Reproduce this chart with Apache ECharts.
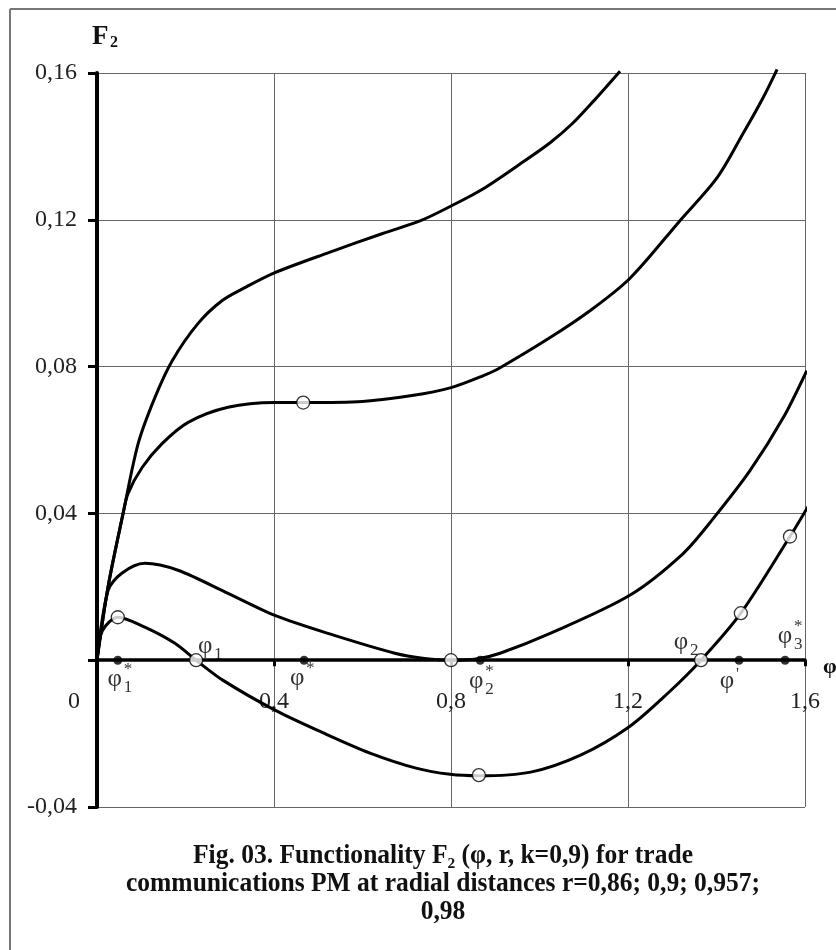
<!DOCTYPE html>
<html><head><meta charset="utf-8">
<script src="https://cdn.jsdelivr.net/npm/echarts@6/dist/echarts.min.js"></script>
<style>html,body{margin:0;padding:0;background:#fff}#c{width:836px;height:950px}</style>
</head><body><div id="c"></div>
<script>
// ---------- data ----------
const xMin = 0, xMax = 1.6, xStep = 0.4;
const yMin = -0.04, yMax = 0.16, yStep = 0.04;

const curveTop = [[0,0],[0.025,0.02],[0.059,0.040],[0.093,0.059],[0.131,0.0716],[0.17,0.0816],[0.228,0.0917],[0.283,0.098],[0.334,0.1015],[0.402,0.1056],[0.522,0.111],[0.644,0.1162],[0.734,0.1199],[0.809,0.1243],[0.872,0.1284],[0.956,0.1352],[1.024,0.141],[1.075,0.1463],[1.121,0.1522],[1.182,0.1605]];
const curveSecond = [[0,0],[0.025,0.02],[0.059,0.040],[0.07,0.0454],[0.102,0.0525],[0.147,0.059],[0.206,0.0648],[0.296,0.0689],[0.402,0.0702],[0.466,0.0702],[0.6,0.0705],[0.712,0.0721],[0.798,0.0742],[0.872,0.0775],[0.911,0.0797],[1.024,0.0879],[1.114,0.0952],[1.204,0.104],[1.317,0.1197],[1.401,0.1314],[1.46,0.1435],[1.505,0.1532],[1.537,0.161]];
const curveThird = [[0,0],[0.025,0.019],[0.056,0.0237],[0.108,0.0264],[0.183,0.0245],[0.296,0.0182],[0.402,0.0122],[0.522,0.0073],[0.673,0.0019],[0.74,0.0005],[0.8,0],[0.86,0.0004],[0.911,0.0019],[1.024,0.0073],[1.204,0.0177],[1.324,0.029],[1.392,0.0385],[1.476,0.0517],[1.551,0.0661],[1.604,0.0789]];
const curveBottom = [[0,0],[0.012,0.008],[0.047,0.0117],[0.108,0.009],[0.176,0.0046],[0.224,0],[0.285,-0.0055],[0.402,-0.0136],[0.513,-0.0199],[0.617,-0.0253],[0.721,-0.0294],[0.798,-0.0311],[0.863,-0.0315],[0.98,-0.0305],[1.094,-0.0258],[1.202,-0.0182],[1.29,-0.009],[1.365,0],[1.455,0.0128],[1.566,0.0337],[1.611,0.0427]];

const openPoints = [[0.047,0.0117],[0.224,0],[0.466,0.0702],[0.80,0],[0.863,-0.0313],[1.365,0],[1.455,0.0128],[1.566,0.0337]];
const axisPoints = [[0.047,0],[0.468,0],[0.866,0],[1.451,0],[1.555,0]];

const pointLabelMain = ['φ','φ','φ','φ','φ','φ','φ'];
const pointLabelSub  = ['1','1','','2','2','','3'];
const pointLabelSup  = ['*','','*','*','','\'','*'];
const pointLabelAt   = [0.047,0.224,0.468,0.866,1.365,1.451,1.555];

const yAxisTitle = 'F';
const yAxisTitleSub = '2';
const xAxisTitle = 'φ';
const originLabel = '0';
const captionLines = ['Fig. 03. Functionality F\u2082 (φ, r, k=0,9) for trade','communications PM at radial distances r=0,86; 0,9; 0,957;','0,98'];

// ---------- chart ----------
const FONT = '"Liberation Serif","Times New Roman",serif';
const chart = echarts.init(document.getElementById('c'), null, {renderer:'canvas'});
const fmt = v => Math.abs(v) < 1e-9 ? '' : String(Number(v.toFixed(2))).replace('.', ',');
const lineSeries = d => ({type:'line', data:d, smooth:0.3, symbol:'none', showSymbol:false, clip:false, silent:true, z:3,
  lineStyle:{color:'#000', width:3}});

chart.setOption({
  animation:false,
  backgroundColor:'#fff',
  grid:{left:97, right:31, top:73, bottom:143, containLabel:false, outerBoundsMode:'none'},
  xAxis:{type:'value', min:xMin, max:xMax, interval:xStep,
    axisLine:{show:true, onZero:true, lineStyle:{color:'#000', width:3.5}},
    axisTick:{show:true, length:6, lineStyle:{color:'#000', width:3}},
    axisLabel:{formatter:fmt, fontFamily:FONT, fontSize:24, color:'#222', margin:-117},
    splitLine:{show:true, lineStyle:{color:'#666', width:1}}},
  yAxis:{type:'value', min:yMin, max:yMax, interval:yStep,
    axisLine:{show:true, onZero:false, lineStyle:{color:'#000', width:4}},
    axisTick:{show:true, length:9, lineStyle:{color:'#000', width:3}},
    axisLabel:{formatter:fmt, fontFamily:FONT, fontSize:24, color:'#222', margin:20},
    splitLine:{show:true, lineStyle:{color:'#666', width:1}}},
  series:[
    lineSeries(curveTop), lineSeries(curveSecond), lineSeries(curveThird), lineSeries(curveBottom),
    {type:'scatter', data:axisPoints, symbol:'circle', symbolSize:9, z:4, silent:true, clip:false,
      itemStyle:{color:'#000'}},
    {type:'scatter', data:openPoints, symbol:'circle', symbolSize:13, z:5, silent:true, clip:false,
      itemStyle:{color:'#fff', borderColor:'#000', borderWidth:1.3}}
  ]
});

// text layout (offsets in px from each anchor)
const labelOffsets = [[-3,19],[9,-14],[-7,18],[-4,21],[-20,-18],[-12,21],[0,-24]];
const supDy = [-10, 0, -10, -10, 0, -7, -10];
const g = [];
g.push({type:'line', shape:{x1:10,y1:9,x2:836,y2:9}, style:{stroke:'#777', lineWidth:2}});
g.push({type:'line', shape:{x1:10,y1:9,x2:10,y2:950}, style:{stroke:'#777', lineWidth:2}});
g.push({type:'text', x:92, y:24, style:{text:yAxisTitle, font:'bold 27px '+FONT, fill:'#111'}});
g.push({type:'text', x:110, y:35, style:{text:yAxisTitleSub, font:'bold 16px '+FONT, fill:'#111'}});
const end = chart.convertToPixel({gridIndex:0}, [xMax, 0]);
g.push({type:'text', x:end[0]+18, y:end[1]+7, style:{text:xAxisTitle, font:'bold 22px '+FONT, fill:'#111', align:'left', verticalAlign:'middle'}});
const org = chart.convertToPixel({gridIndex:0}, [0, 0]);
g.push({type:'text', x:org[0]-23, y:org[1]+42, style:{text:originLabel, font:'24px '+FONT, fill:'#222', align:'center', verticalAlign:'middle'}});
pointLabelAt.forEach((phi, i) => {
  const p = chart.convertToPixel({gridIndex:0}, [phi, 0]);
  const cx = p[0] + labelOffsets[i][0], cy = p[1] + labelOffsets[i][1];
  g.push({type:'text', x:cx, y:cy, style:{text:pointLabelMain[i], font:'25px '+FONT, fill:'#333', align:'center', verticalAlign:'middle'}});
  if (pointLabelSub[i]) g.push({type:'text', x:cx+9, y:cy+8, style:{text:pointLabelSub[i], font:'17px '+FONT, fill:'#333', align:'left', verticalAlign:'middle'}});
  if (pointLabelSup[i]) g.push({type:'text', x:cx+9, y:cy+supDy[i], style:{text:pointLabelSup[i], font:'17px '+FONT, fill:'#333', align:'left', verticalAlign:'middle'}});
});
const capY = [856, 884, 912];
captionLines.forEach((t, i) => {
  g.push({type:'text', x:443, y:capY[i], scaleX:0.945, style:{x:0, y:0, text:t, font:'bold 27px '+FONT, fill:'#111', align:'center', verticalAlign:'middle'}});
});
chart.setOption({graphic:{elements:g}});
</script></body></html>
